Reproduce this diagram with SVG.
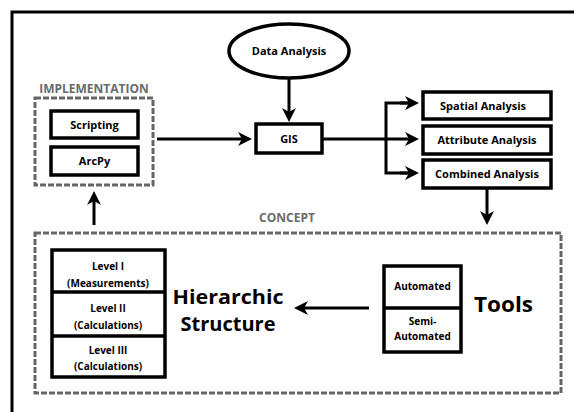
<svg xmlns="http://www.w3.org/2000/svg" width="574" height="412" viewBox="0 0 574 412">
<defs>
<style>
text{font-family:"Open Sans","DejaVu Sans",sans-serif;font-weight:bold;text-anchor:middle;fill:#000}
.box{fill:#fff;stroke:#000;stroke-width:3.5}
.dash{fill:none;stroke:#666;stroke-width:3;stroke-dasharray:6 2}
.lbl{fill:#6a6a6a;font-size:12px}
.s{font-size:11px}
.xs{font-size:10px}
.big{font-size:22px}
.hs{font-size:19.5px}
.line{fill:none;stroke:#000;stroke-width:3}
</style>
<marker id="ah" viewBox="0 0 14 14" refX="6" refY="7" markerWidth="14" markerHeight="14" markerUnits="userSpaceOnUse" orient="auto">
<path d="M0,0 L14,7 L0,14 L4,7 Z" fill="#000"/>
</marker>
</defs>
<rect width="574" height="412" fill="#fff"/>
<path d="M12,412 V12 H574" fill="none" stroke="#000" stroke-width="3"/>

<g id="implementation">
<text class="lbl" x="94" y="93">IMPLEMENTATION</text>
<rect class="dash" x="35" y="98" width="118" height="87"/>
</g>
<g id="scripting">
<rect class="box" x="51" y="111" width="87" height="27"/>
<text class="s" x="94.5" y="128.5">Scripting</text>
</g>
<g id="arcpy">
<rect class="box" x="51" y="147" width="87" height="28"/>
<text class="s" x="94.5" y="165">ArcPy</text>
</g>

<g id="data-analysis">
<ellipse cx="289" cy="51" rx="60" ry="27" fill="#fff" stroke="#000" stroke-width="3.5"/>
<text class="s" x="289" y="55">Data Analysis</text>
</g>
<g id="gis">
<rect class="box" x="256" y="124" width="66" height="29"/>
<text class="s" x="289" y="143">GIS</text>
</g>

<g id="spatial">
<rect class="box" x="423" y="92" width="128" height="27"/>
<text class="s" x="483" y="110">Spatial Analysis</text>
</g>
<g id="attribute">
<rect class="box" x="423" y="126" width="128" height="28"/>
<text class="s" x="487" y="144">Attribute Analysis</text>
</g>
<g id="combined">
<rect class="box" x="423" y="160" width="128" height="28"/>
<text class="s" x="487" y="178">Combined Analysis</text>
</g>

<g id="concept">
<text class="lbl" x="287" y="222">CONCEPT</text>
<rect class="dash" x="35" y="233" width="526" height="160"/>
</g>

<g id="levels">
<rect class="box" x="52" y="250" width="113" height="127"/>
<line x1="52" y1="292" x2="165" y2="292" stroke="#000" stroke-width="3.5"/>
<line x1="52" y1="336" x2="165" y2="336" stroke="#000" stroke-width="3.5"/>
<text class="xs" x="108" y="270">Level I</text>
<text class="xs" x="108" y="287">(Measurements)</text>
<text class="xs" x="108" y="312">Level II</text>
<text class="xs" x="108" y="329">(Calculations)</text>
<text class="xs" x="108" y="354">Level III</text>
<text class="xs" x="108" y="370">(Calculations)</text>
</g>
<g id="hierarchic">
<text class="hs" x="228" y="304" textLength="111" lengthAdjust="spacingAndGlyphs">Hierarchic</text>
<text class="hs" x="228" y="331" textLength="95" lengthAdjust="spacingAndGlyphs">Structure</text>
</g>

<g id="tools-boxes">
<rect class="box" x="384" y="266" width="77" height="86"/>
<line x1="384" y1="308" x2="461" y2="308" stroke="#000" stroke-width="3.5"/>
<text class="xs" x="422.5" y="290">Automated</text>
<text class="xs" x="422.5" y="325">Semi-</text>
<text class="xs" x="422.5" y="340">Automated</text>
</g>
<g id="tools">
<text class="big" x="503.5" y="312" textLength="59" lengthAdjust="spacingAndGlyphs">Tools</text>
</g>

<g id="connectors">
<line class="line" x1="157" y1="139" x2="244" y2="139" marker-end="url(#ah)"/>
<line class="line" x1="289" y1="78" x2="289" y2="114" marker-end="url(#ah)"/>
<line class="line" x1="322" y1="139" x2="411" y2="139" marker-end="url(#ah)"/>
<path class="line" d="M411,103 H386 V173 H411"/>
<line class="line" x1="400" y1="103" x2="411" y2="103" marker-end="url(#ah)"/>
<line class="line" x1="400" y1="173" x2="411" y2="173" marker-end="url(#ah)"/>
<line class="line" x1="487" y1="188" x2="487" y2="217" marker-end="url(#ah)"/>
<line class="line" x1="369" y1="308" x2="302" y2="308" marker-end="url(#ah)"/>
<line class="line" x1="94" y1="225" x2="94" y2="199" marker-end="url(#ah)"/>
</g>
</svg>
